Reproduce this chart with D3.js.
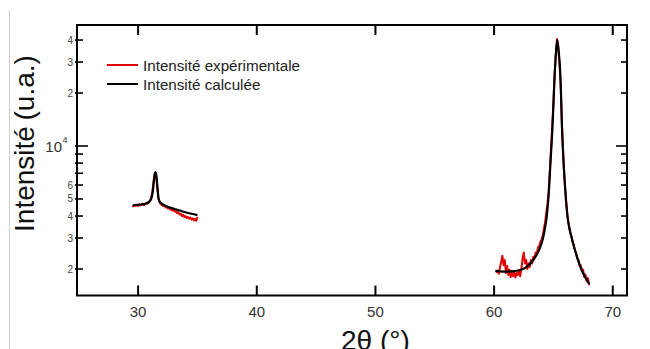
<!DOCTYPE html>
<html>
<head>
<meta charset="utf-8">
<script src="https://cdn.jsdelivr.net/npm/d3@7/dist/d3.min.js"></script>
<style>
  html, body { margin: 0; padding: 0; background: #fff; }
  svg { display: block; font-family: "Liberation Sans", Arial, sans-serif; }
</style>
</head>
<body>
<svg id="chart" width="650" height="349"></svg>
<script>
// ---- Data ----
const xTicks = [30, 40, 50, 60, 70];
const yLabeledTicks = [2000, 3000, 4000, 5000, 6000, 20000, 30000, 40000];
const yLabeledText = ["2", "3", "4", "5", "6", "2", "3", "4"];
const yMinorTicks = [7000, 8000, 9000];
const yMajorTicks = [10000];

// Experimental intensity, low-angle region (2θ step 0.1°, 29.5 → 35.0)
const expTheta1 = [29.5,29.6,29.7,29.8,29.9,30.0,30.1,30.2,30.3,30.4,30.5,30.6,30.7,30.8,30.9,31.0,31.1,31.2,31.3,31.4,31.5,31.6,31.7,31.8,31.9,32.0,32.1,32.2,32.3,32.4,32.5,32.6,32.7,32.8,32.9,33.0,33.1,33.2,33.3,33.4,33.5,33.6,33.7,33.8,33.9,34.0,34.1,34.2,34.3,34.4,34.5,34.6,34.7,34.8,34.9,35.0];
const expInt1 = [4580,4540,4610,4570,4630,4560,4660,4600,4640,4700,4620,4680,4750,4700,4800,4870,5050,5500,6300,7000,6900,6000,5100,4800,4680,4620,4560,4600,4480,4530,4420,4480,4350,4380,4290,4330,4230,4260,4150,4200,4080,4120,4000,4060,3950,4000,3900,3950,3860,3920,3820,3880,3780,3850,3760,3950];

// Calculated intensity, low-angle region
const calcTheta1 = [29.55,29.8,30.2,30.6,30.9,31.1,31.25,31.35,31.45,31.55,31.62,31.72,31.85,32.0,32.5,33.0,33.5,34.0,34.5,35.0];
const calcInt1 = [4600,4620,4650,4700,4800,5000,5600,6500,7100,6700,5900,5050,4800,4700,4520,4400,4300,4200,4120,4050];

// Experimental intensity, high-angle region (2θ step 0.1°, 60.2 → 68.0)
const expTheta2 = [60.2,60.3,60.4,60.5,60.6,60.7,60.8,60.9,61.0,61.1,61.2,61.3,61.4,61.5,61.6,61.7,61.8,61.9,62.0,62.1,62.2,62.3,62.4,62.5,62.6,62.7,62.8,62.9,63.0,63.1,63.2,63.3,63.4,63.5,63.6,63.7,63.8,63.9,64.0,64.1,64.2,64.3,64.4,64.5,64.6,64.7,64.8,64.9,65.0,65.1,65.2,65.3,65.4,65.5,65.6,65.7,65.8,65.9,66.0,66.1,66.2,66.3,66.4,66.5,66.6,66.7,66.8,66.9,67.0,67.1,67.2,67.3,67.4,67.5,67.6,67.7,67.8,67.9,68.0];
const expInt2 = [1900,1960,1880,2050,2200,2380,2100,2250,1900,2080,1850,1980,1800,1950,1820,1920,1790,1900,1850,1960,1820,2000,2300,2480,2150,2250,2000,2150,2050,2250,2150,2350,2300,2480,2450,2650,2700,2850,2950,3100,3400,3700,4200,4700,5600,7200,9800,13000,18000,25500,33000,40500,37000,30000,23000,14500,9800,7000,5600,4700,3900,3550,3250,3100,2880,2750,2580,2480,2300,2250,2080,2100,1950,1980,1800,1860,1700,1780,1620];

// Calculated intensity, high-angle region
const calcTheta2 = [60.1,60.5,61.0,61.5,62.0,62.5,62.9,63.3,63.6,63.85,64.1,64.3,64.45,64.6,64.75,64.9,65.0,65.1,65.2,65.32,65.45,65.55,65.63,65.7,65.8,65.95,66.1,66.25,66.5,66.75,67.0,67.25,67.5,67.75,68.05];
const calcInt2 = [1950,1940,1935,1940,1960,2010,2100,2250,2420,2620,2950,3450,4050,5300,8000,12000,17000,25000,33000,40000,34000,28000,21000,14000,9500,6300,4500,3700,3080,2650,2330,2080,1890,1760,1640];

const legendLabels = ["Intensité expérimentale", "Intensité calculée"];
const seriesColors = ["#e00000", "#000000"];

// ---- Layout ----
const svg = d3.select("#chart");
const L = 77, R = 627, T = 25, B = 295.5;

const x = d3.scaleLinear().domain([24.85, 71.2]).range([L, R]);
const y = d3.scaleLog().domain([1414, 48700]).range([B, T]);

// faint image border line at left
svg.append("line").attr("x1", 9.5).attr("x2", 9.5).attr("y1", 10).attr("y2", 349)
  .attr("stroke", "#cfcfcf").attr("stroke-width", 1);

// clip
svg.append("clipPath").attr("id", "clip").append("rect")
  .attr("x", L).attr("y", T).attr("width", R - L).attr("height", B - T);

const g = svg.append("g").attr("clip-path", "url(#clip)");

const line = d3.line().x(d => x(d[0])).y(d => y(d[1]));
const smooth = d3.line().x(d => x(d[0])).y(d => y(d[1])).curve(d3.curveMonotoneX);

function draw(xs, ys, color, gen, w) {
  g.append("path").datum(xs.map((v, i) => [v, ys[i]]))
    .attr("d", gen).attr("fill", "none").attr("stroke", color)
    .attr("stroke-width", w).attr("stroke-linejoin", "round");
}
draw(expTheta1, expInt1, seriesColors[0], line, 2);
draw(expTheta2, expInt2, seriesColors[0], line, 2);
draw(calcTheta1, calcInt1, seriesColors[1], smooth, 2.2);
draw(calcTheta2, calcInt2, seriesColors[1], smooth, 2.2);

// ---- Axes ----
const axisG = svg.append("g");
axisG.append("rect").attr("x", L).attr("y", T).attr("width", R - L).attr("height", B - T)
  .attr("fill", "none").attr("stroke", "#000").attr("stroke-width", 2);

xTicks.forEach(t => {
  const px = x(t);
  axisG.append("line").attr("x1", px).attr("x2", px).attr("y1", B).attr("y2", B - 10)
    .attr("stroke", "#000").attr("stroke-width", 2);
  axisG.append("line").attr("x1", px).attr("x2", px).attr("y1", T).attr("y2", T + 10)
    .attr("stroke", "#000").attr("stroke-width", 2);
  axisG.append("text").attr("x", px).attr("y", 317).attr("text-anchor", "middle")
    .attr("font-size", 15).attr("fill", "#333").text(t);
});

function yTick(v, len) {
  const py = y(v);
  axisG.append("line").attr("x1", L - 2).attr("x2", L + len).attr("y1", py).attr("y2", py)
    .attr("stroke", "#000").attr("stroke-width", 1.6);
  axisG.append("line").attr("x1", R).attr("x2", R - len).attr("y1", py).attr("y2", py)
    .attr("stroke", "#000").attr("stroke-width", 1.6);
}
yLabeledTicks.forEach((v, i) => {
  yTick(v, 6);
  axisG.append("text").attr("x", 73).attr("y", y(v) + 3.5).attr("text-anchor", "end")
    .attr("font-size", 10).attr("fill", "#444").text(yLabeledText[i]);
});
yMinorTicks.forEach(v => yTick(v, 6));
yMajorTicks.forEach(v => {
  yTick(v, 11);
  axisG.append("text").attr("x", 62).attr("y", y(v) + 6).attr("text-anchor", "end")
    .attr("font-size", 15).attr("fill", "#333").text("10");
  axisG.append("text").attr("x", 62.5).attr("y", y(v) - 3).attr("text-anchor", "start")
    .attr("font-size", 9).attr("fill", "#333").text("4");
});

// axis titles
svg.append("text").attr("transform", "translate(34,143.5) rotate(-90)")
  .attr("text-anchor", "middle").attr("font-size", 28).attr("fill", "#111")
  .text("Intensité\u2009(u.a.)");
svg.append("text").attr("x", 341).attr("y", 350).attr("font-size", 28).attr("fill", "#111")
  .text("2θ (°)");

// legend
const legY = [65, 84];
legendLabels.forEach((lab, i) => {
  svg.append("line").attr("x1", 107).attr("x2", 138).attr("y1", legY[i]).attr("y2", legY[i])
    .attr("stroke", seriesColors[i]).attr("stroke-width", 2);
  svg.append("text").attr("x", 143).attr("y", legY[i] + 6).attr("font-size", 15.2)
    .attr("fill", "#222").text(lab);
});
</script>
</body>
</html>
